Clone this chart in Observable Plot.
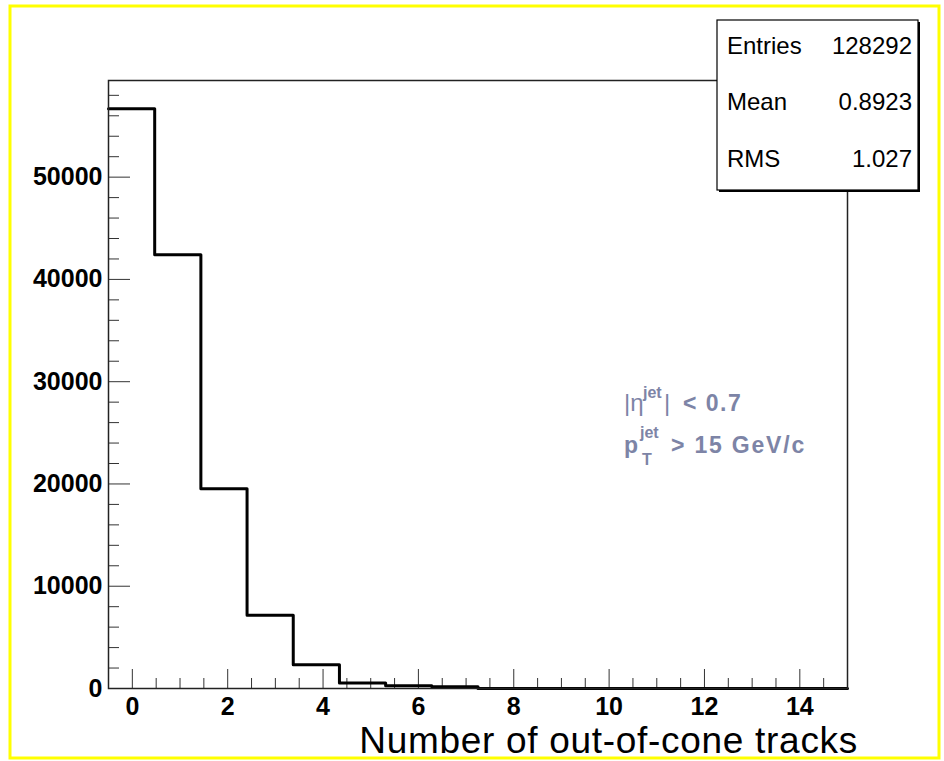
<!DOCTYPE html>
<html>
<head>
<meta charset="utf-8">
<script src="https://cdn.jsdelivr.net/npm/d3@7"></script>
<script src="https://cdn.jsdelivr.net/npm/@observablehq/plot@0.6"></script>
<style>
  html, body { margin: 0; padding: 0; background: #ffffff; }
  #chart { width: 944px; height: 761px; }
  #chart svg { display: block; }
</style>
</head>
<body>
<div id="chart"></div>
<script>
// ---- data ----
const xMin = -0.5;
const xMax = 15;
const nBins = 16;
const counts = [56690, 42414, 19540, 7155, 2317, 538, 260, 170, 0, 0, 0, 0, 0, 0, 0, 0];
const yMax = 59450;

const xMajorTicks = [0, 2, 4, 6, 8, 10, 12, 14];
const xMinorTicks = [0.5, 1, 1.5, 2.5, 3, 3.5, 4.5, 5, 5.5, 6.5, 7, 7.5, 8.5, 9, 9.5, 10.5, 11, 11.5, 12.5, 13, 13.5, 14.5];
const yMajorTicks = [0, 10000, 20000, 30000, 40000, 50000];
const yMinorTicks = [2000, 4000, 6000, 8000, 12000, 14000, 16000, 18000, 22000, 24000, 26000, 28000,
                     32000, 34000, 36000, 38000, 42000, 44000, 46000, 48000, 52000, 54000, 56000, 58000];

const statsLabels = ["Entries", "Mean", "RMS"];
const statsValues = ["128292", "0.8923", "1.027"];
const xTitle = "Number of out-of-cone tracks";

// ---- build ----
const binWidth = (xMax - xMin) / nBins;
const steps = counts.map((c, i) => ({x: xMin + i * binWidth, y: c}));
steps.push({x: xMax, y: counts[nBins - 1]});

const font = "'Liberation Sans', Arial, Helvetica, sans-serif";
const W = 944, H = 761;

const chart = Plot.plot({
  width: W,
  height: H,
  marginLeft: 108,
  marginRight: 97,
  marginTop: 80,
  marginBottom: 73,
  style: {fontFamily: font, background: "white", overflow: "visible"},
  x: {domain: [xMin, xMax]},
  y: {domain: [0, yMax]},
  marks: [
    Plot.axisX({ticks: xMinorTicks, tickSize: -10, fill: "none", label: null, stroke: "#333"}),
    Plot.axisX({ticks: xMajorTicks, tickSize: -19, fill: "none", label: null, stroke: "#333"}),
    Plot.axisX({ticks: xMajorTicks, tickSize: 0, tickPadding: 9, tickFormat: d => String(d),
                fontSize: 25, fontWeight: "bold", fill: "black", label: null}),
    Plot.axisY({ticks: yMinorTicks, tickSize: -11, fill: "none", label: null, stroke: "#333"}),
    Plot.axisY({ticks: yMajorTicks, tickSize: -22, fill: "none", label: null, stroke: "#333"}),
    Plot.axisY({ticks: yMajorTicks, tickSize: 0, tickPadding: 6, tickFormat: d => String(d),
                fontSize: 25, fontWeight: "bold", fill: "black", label: null}),
    Plot.line(steps, {x: "x", y: "y", curve: "step-after", stroke: "black", strokeWidth: 3}),
    Plot.frame({stroke: "#222", strokeWidth: 1.5})
  ]
});

document.getElementById("chart").appendChild(chart);

// ---- decorations: stats box, annotation, title, canvas border ----
const svg = d3.select(chart);
const deco = svg.append("g").attr("text-anchor", "start").attr("font-family", font);

// stats box with drop shadow
const box = {x: 717, y: 20, w: 201, h: 170};
deco.append("rect").attr("x", box.x + 2).attr("y", box.y + 2).attr("width", box.w).attr("height", box.h).attr("fill", "black");
deco.append("rect").attr("x", box.x).attr("y", box.y).attr("width", box.w).attr("height", box.h)
   .attr("fill", "white").attr("stroke", "black").attr("stroke-width", 1.2);
const rowBase = [54, 110, 167];
statsLabels.forEach((lab, i) => {
  deco.append("text").attr("x", box.x + 10).attr("y", rowBase[i]).attr("text-anchor", "start")
     .attr("font-size", 24).attr("fill", "black").text(lab);
  deco.append("text").attr("x", box.x + box.w - 6).attr("y", rowBase[i])
     .attr("font-size", 24).attr("fill", "black").attr("text-anchor", "end").text(statsValues[i]);
});

// annotation
const annColor = "#7d84a6";
const ann = deco.append("g").attr("fill", annColor).attr("font-weight", "bold").attr("text-anchor", "start");
ann.append("text").attr("x", 624).attr("y", 411).attr("font-size", 24).attr("font-weight", "normal").text("|η");
ann.append("text").attr("x", 643).attr("y", 398).attr("font-size", 16).text("jet");
ann.append("text").attr("x", 664).attr("y", 411).attr("font-size", 24).attr("font-weight", "normal").text("|");
ann.append("text").attr("x", 683).attr("y", 411).attr("font-size", 23).attr("letter-spacing", 1.5).text("< 0.7");
ann.append("text").attr("x", 624).attr("y", 453).attr("font-size", 23).text("p");
ann.append("text").attr("x", 640).attr("y", 438).attr("font-size", 16).text("jet");
ann.append("text").attr("x", 642).attr("y", 465).attr("font-size", 16).text("T");
ann.append("text").attr("x", 671).attr("y", 453).attr("font-size", 23).attr("letter-spacing", 1.8).text("> 15 GeV/c");

// x-axis title
deco.append("text").attr("x", 858).attr("y", 753).attr("text-anchor", "end")
   .attr("font-size", 37).attr("letter-spacing", 0.7).attr("fill", "black").text(xTitle);

// canvas border
deco.append("rect").attr("x", 10).attr("y", 6).attr("width", 929).attr("height", 752)
   .attr("fill", "none").attr("stroke", "#ffff00").attr("stroke-width", 3);
</script>
</body>
</html>
